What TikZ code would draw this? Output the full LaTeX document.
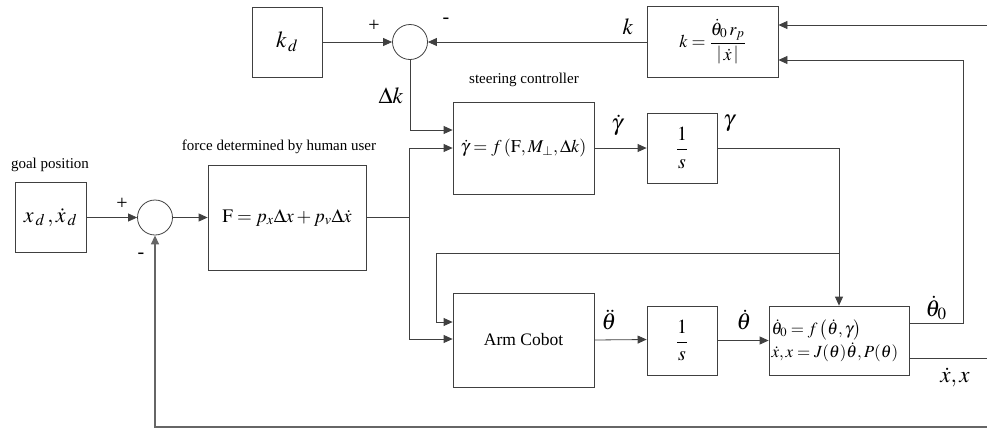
\documentclass[tikz,border=0pt]{standalone}
\usepackage{amsmath}
\usepackage{mathptmx}
\usepackage[no-math]{fontspec}
\setmainfont{Liberation Serif}
\newfontfamily\tnr{Liberation Serif}
\usetikzlibrary{arrows.meta,calc}

\begin{document}
\begin{tikzpicture}[x=1pt,y=-1pt,
  ln/.style={draw=black!75, line width=0.8pt},
  arr/.style={ln, -{Triangle[length=9pt,width=8pt]}},
  blk/.style={draw=black!75, line width=0.8pt, inner sep=0pt, fill=white},
  sumc/.style={circle, draw=black!75, line width=0.8pt, minimum size=35pt, inner sep=0pt},
  captxt/.style={font=\tnr\fontsize{15}{17}\selectfont},
  sig/.style={font=\fontsize{23}{25}\selectfont},
  sgn/.style={font=\tnr\fontsize{20}{22}\selectfont}]
\useasboundingbox (0,0) rectangle (987,429);

% blocks
\node[blk, minimum width=70pt, minimum height=70pt, font=\fontsize{23}{25}\selectfont] (kd) at (287,42) {$k_{\,d}$};
\node[sumc] (sumTop) at (410,42) {};
\node[blk, minimum width=131pt, minimum height=71pt, font=\fontsize{18}{20}\selectfont] (kbox) at (712.5,42) {$k=\dfrac{\dot\theta_{0}\,r_{p}}{\left|\,\dot x\,\right|}$};
\node[blk, minimum width=71pt, minimum height=70pt, font=\fontsize{22}{24}\selectfont] (goal) at (50.5,217.5) {$x_{\,d}\,,\dot x_{\,d}$};
\node[sumc] (sumLow) at (155,217.5) {};
\node[blk, minimum width=158pt, minimum height=105pt, font=\fontsize{19}{21}\selectfont] (Fbox) at (287,217.5) {$\mathrm{F}=p_x\Delta x+p_v\Delta\dot x$};
\node[blk, minimum width=141pt, minimum height=92pt, font=\fontsize{18}{20}\selectfont] (steer) at (523.5,148) {$\dot\gamma=f\left(\mathrm{F},M_\perp,\Delta k\right)$};
\node[blk, minimum width=70pt, minimum height=70pt, font=\fontsize{20}{22}\selectfont] (int1) at (682,148) {$\dfrac{1}{s}$};
\node[blk, minimum width=141pt, minimum height=94pt, font=\tnr\fontsize{17.5}{19}\selectfont] (arm) at (523.5,340) {Arm Cobot};
\node[blk, minimum width=70pt, minimum height=69pt, font=\fontsize{20}{22}\selectfont] (int2) at (682,340.5) {$\dfrac{1}{s}$};
\node[blk, minimum width=140pt, minimum height=69pt, font=\fontsize{17}{20}\selectfont, align=left, text width=135pt, inner xsep=2.5pt] (kin) at (839,340.5)
  {$\dot\theta_0=f\left(\dot\theta,\gamma\right)$\\[1pt] $\dot x,x=J(\theta)\dot\theta,P(\theta)$};

% captions
\node[captxt] (capGoal) at (50,165) {goal position};
\node[captxt] (capF) at (279,147) {force determined by human user};
\node[captxt] (capS) at (524,80) {steering controller};

% junction and corner points
\coordinate (fsplit) at (409,217.5);
\coordinate (gsplit) at (839,253);
\coordinate (loopc) at (436,253);
\coordinate (tcorner) at (963,323);
\coordinate (xout) at (987,358);
\coordinate (kin1) at (987,25);
\coordinate (fbR) at (987,427);
\coordinate (fbL) at (155,427);

% connectors
\draw[arr] (kd.east) -- (sumTop.west);
\draw[arr] (kbox.west) -- (sumTop.east);
\draw[arr] (sumTop.south) |- ($(steer.west)+(0,-18)$);
\draw[arr] (goal.east) -- (sumLow.west);
\draw[arr] (sumLow.east) -- (Fbox.west);
\draw[ln] (Fbox.east) -- (fsplit);
\draw[arr] (fsplit) |- (steer.west);
\draw[arr] (fsplit) |- ($(arm.west)+(0,-1)$);
\draw[arr] (steer.east) -- (int1.west);
\draw[arr] (int1.east) -| (kin.north);
\draw[arr] (gsplit) -- (loopc) |- ($(arm.west)+(0,-18)$);
\draw[arr] (arm.east) -- ($(int2.west)+(0,-1)$);
\draw[arr] (int2.east) -- (kin.west);
\draw[arr] (kin.east |- tcorner) -- (tcorner) |- ($(kbox.east)+(0,18)$);
\draw[ln] (kin.east |- xout) -- (xout);
\draw[arr] (kin1) -- (kbox.east |- kin1);
\draw[arr, line width=1.4pt, draw=black!60] (fbR) -- (fbL) -- (sumLow.south);

% signal labels
\node[sig] (lk) at (628,27) {$k$};
\node[sig] (ldk) at (391,96) {$\Delta k$};
\node[sig] (lgd) at (617,125) {$\dot\gamma$};
\node[sig] (lg) at (729,123) {$\gamma$};
\node[sig] (ltdd) at (609,320) {$\ddot\theta$};
\node[sig] (ltd) at (744,320) {$\dot\theta$};
\node[sig] (lt0) at (936,308) {$\dot\theta_0$};
\node[sig] (lx) at (955,377) {$\dot x,x$};

% signs
\node[sgn] (pTop) at (374,26) {+};
\node[sgn] (mTop) at (446,21) {-};
\node[sgn] (pLow) at (122,204) {+};
\node[sgn] (mLow) at (141,256) {-};
\end{tikzpicture}
\end{document}
